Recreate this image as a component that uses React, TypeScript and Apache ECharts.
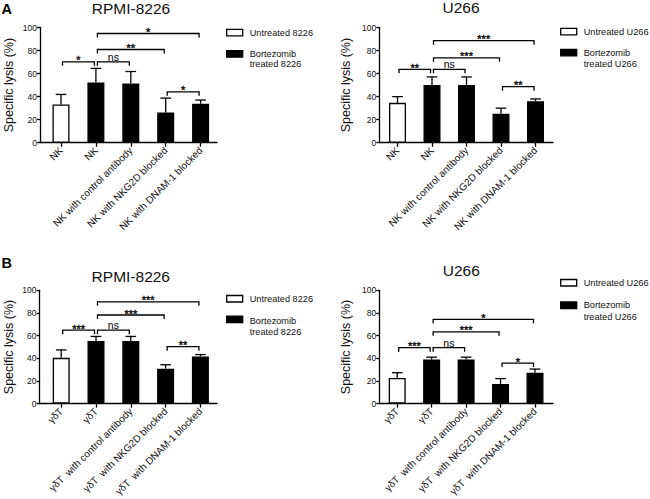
import React, { useEffect, useRef } from 'react';
import * as echarts from 'echarts';

const FONT = '"Liberation Sans", Arial, Helvetica, sans-serif';

// ---------- data ----------
const nkCategories = ['NK', 'NK', 'NK with control antibody', 'NK with NKG2D blocked', 'NK with DNAM-1 blocked'];
const gdCategories = ['γδT', 'γδT', 'γδT  with control antibody', 'γδT  with NKG2D blocked', 'γδT  with DNAM-1 blocked'];
const categoryPositions = [1, 2, 3, 4, 5];
const yTickMin = 0;
const yTickMax = 100;
const yTickStep = 20;

const bracketPairs = [[1, 2], [2, 3], [2, 4], [2, 5], [4, 5]];

// Panel A, RPMI-8226 (NK)
const aRpmiMeans = [33.2, 52.3, 51.4, 26.3, 33.8];
const aRpmiUpper = [41.9, 64.5, 61.8, 38.7, 37.0];
const aRpmiBracketY = [70.2, 70.2, 80.9, 94.8, 44.2];
const aRpmiBracketLabels = ['*', 'ns', '**', '*', '*'];

// Panel A, U266 (NK)
const aU266Means = [34.6, 50.0, 50.0, 25.1, 36.0];
const aU266Upper = [40.0, 57.1, 57.1, 30.0, 38.0];
const aU266BracketY = [63.7, 63.7, 73.7, 88.6, 48.6];
const aU266BracketLabels = ['**', 'ns', '***', '***', '**'];

// Panel B, RPMI-8226 (γδT)
const bRpmiMeans = [40.4, 55.2, 55.2, 30.8, 41.6];
const bRpmiUpper = [47.4, 59.3, 59.3, 34.3, 43.3];
const bRpmiBracketY = [64.8, 64.8, 78.2, 89.8, 50.3];
const bRpmiBracketLabels = ['***', 'ns', '***', '***', '**'];

// Panel B, U266 (γδT)
const bU266Means = [22.7, 39.0, 39.0, 17.4, 27.3];
const bU266Upper = [27.3, 41.0, 41.0, 22.1, 30.5];
const bU266BracketY = [49.4, 49.4, 63.4, 74.4, 35.8];
const bU266BracketLabels = ['***', 'ns', '***', '*', '*'];

const rpmiLegend = ['Untreated 8226', 'Bortezomib treated 8226'];
const rpmiLegendLines = ['Untreated 8226', 'Bortezomib', 'treated 8226'];
const u266Legend = ['Untreated U266', 'Bortezomib treated U266'];
const u266LegendLines = ['Untreated U266', 'Bortezomib', 'treated U266'];

const yAxisTitle = 'Specific lysis (%)';

// ---------- layout ----------
const panels = [
  {
    letter: 'A', letterY: 8.5, title: 'RPMI-8226', cats: nkCategories,
    means: aRpmiMeans, upper: aRpmiUpper, bY: aRpmiBracketY, bL: aRpmiBracketLabels,
    legend: rpmiLegend, legendLines: rpmiLegendLines,
    L: { axisX: 40, c1: 61, spacing: 34.9, axisEnd: 217, top: 27.5, h: 115.2, titleX: 131, titleY: 8, nameGap: 24.5,
      legX: 226.7, whiteTop: 29.3, blackTop: 50.7, textY: [33, 54.3, 64.3] },
  },
  {
    letter: '', letterY: 0, title: 'U266', cats: nkCategories,
    means: aU266Means, upper: aU266Upper, bY: aU266BracketY, bL: aU266BracketLabels,
    legend: u266Legend, legendLines: u266LegendLines,
    L: { axisX: 379.3, c1: 397.5, spacing: 34.5, axisEnd: 553, top: 27.5, h: 115.2, titleX: 461, titleY: 7.5, nameGap: 27,
      legX: 560.7, whiteTop: 28.3, blackTop: 49.3, textY: [31.7, 53.3, 64] },
  },
  {
    letter: 'B', letterY: 263.3, title: 'RPMI-8226', cats: gdCategories,
    means: bRpmiMeans, upper: bRpmiUpper, bY: bRpmiBracketY, bL: bRpmiBracketLabels,
    legend: rpmiLegend, legendLines: rpmiLegendLines,
    L: { axisX: 39.5, c1: 61.2, spacing: 34.8, axisEnd: 217, top: 290.3, h: 115.2, titleX: 130.8, titleY: 276, nameGap: 24,
      legX: 226.7, whiteTop: 295.5, blackTop: 316.2, textY: [299.3, 321, 331.7] },
  },
  {
    letter: '', letterY: 0, title: 'U266', cats: gdCategories,
    means: bU266Means, upper: bU266Upper, bY: bU266BracketY, bL: bU266BracketLabels,
    legend: u266Legend, legendLines: u266LegendLines,
    L: { axisX: 379.3, c1: 397.2, spacing: 34.45, axisEnd: 553, top: 290.3, h: 115.2, titleX: 461.3, titleY: 270.5, nameGap: 27,
      legX: 560.7, whiteTop: 279.5, blackTop: 302, textY: [283.3, 305, 316.7] },
  },
];

const AXIS_W = 1.3;
const INK = '#000';
const TEXT = '#111';

function buildOption() {
  const grid: any[] = [];
  const xAxis: any[] = [];
  const yAxis: any[] = [];
  const series: any[] = [];
  const graphic: any[] = [];

  panels.forEach((p, i) => {
    const L = p.L;
    grid.push({ left: L.axisX, top: L.top, width: L.axisEnd - L.axisX, height: L.h, containLabel: false });
    const cats = p.cats;
    xAxis.push({
      type: 'value', gridIndex: i,
      min: 1 - (L.c1 - L.axisX) / L.spacing,
      max: 1 + (L.axisEnd - L.c1) / L.spacing,
      splitLine: { show: false },
      axisLine: { show: true, onZero: false, lineStyle: { color: INK, width: AXIS_W } },
      axisTick: { show: true, customValues: categoryPositions, length: 4, lineStyle: { color: INK, width: AXIS_W } },
      axisLabel: {
        customValues: categoryPositions,
        formatter: (v: number) => cats[Math.round(v) - 1] ?? '',
        rotate: 45, fontSize: 10, margin: 6, color: TEXT, fontFamily: FONT,
      },
    });
    yAxis.push({
      type: 'value', gridIndex: i, min: yTickMin, max: yTickMax, interval: yTickStep,
      name: yAxisTitle, nameLocation: 'middle', nameGap: L.nameGap,
      nameTextStyle: { fontSize: 12.5, fontFamily: FONT, color: TEXT },
      splitLine: { show: false },
      axisLine: { show: true, onZero: false, lineStyle: { color: INK, width: AXIS_W } },
      axisTick: { show: true, length: 3, lineStyle: { color: INK, width: AXIS_W } },
      axisLabel: { fontSize: 8.5, margin: 3, color: TEXT, fontFamily: FONT },
    });

    series.push({
      type: 'bar', name: p.legend[0], xAxisIndex: i, yAxisIndex: i,
      barWidth: 17, barGap: '-100%',
      itemStyle: { color: '#fff', borderColor: INK, borderWidth: AXIS_W },
      data: [[categoryPositions[0], p.means[0]]],
    });
    series.push({
      type: 'bar', name: p.legend[1], xAxisIndex: i, yAxisIndex: i,
      barWidth: 17, barGap: '-100%',
      itemStyle: { color: '#000', borderColor: INK, borderWidth: AXIS_W },
      data: p.means.slice(1).map((m, k) => [categoryPositions[k + 1], m]),
    });
    // error bars (upper only)
    series.push({
      type: 'custom', name: 'err' + i, xAxisIndex: i, yAxisIndex: i, z: 3,
      itemStyle: { color: INK },
      encode: { x: 0, y: [1, 2] },
      data: p.means.map((m, k) => [categoryPositions[k], m, p.upper[k]]),
      renderItem: (params: any, api: any) => {
        const x = api.value(0);
        const p0 = api.coord([x, api.value(1)]);
        const p1 = api.coord([x, api.value(2)]);
        const st = { stroke: INK, lineWidth: AXIS_W };
        return {
          type: 'group',
          children: [
            { type: 'line', shape: { x1: p0[0], y1: p0[1], x2: p1[0], y2: p1[1] }, style: st },
            { type: 'line', shape: { x1: p1[0] - 5.3, y1: p1[1], x2: p1[0] + 5.3, y2: p1[1] }, style: st },
          ],
        };
      },
    });
    // significance brackets
    const labels = p.bL;
    series.push({
      type: 'custom', name: 'sig' + i, xAxisIndex: i, yAxisIndex: i, z: 4,
      itemStyle: { color: TEXT },
      encode: { x: [0, 1], y: 2 },
      data: bracketPairs.map((pr, k) => [pr[0], pr[1], p.bY[k]]),
      renderItem: (params: any, api: any) => {
        const a = api.coord([api.value(0), api.value(2)]);
        const b = api.coord([api.value(1), api.value(2)]);
        const x1 = a[0] + 1.5, x2 = b[0] - 1.5, y = a[1];
        const lab = labels[params.dataIndex];
        const isNs = lab === 'ns';
        return {
          type: 'group',
          children: [
            {
              type: 'polyline',
              shape: { points: [[x1, y + 4], [x1, y], [x2, y], [x2, y + 4]] },
              style: { stroke: INK, lineWidth: AXIS_W, fill: 'none' },
            },
            {
              type: 'text',
              x: (x1 + x2) / 2,
              y: isNs ? y - 5.1 : y - 1.4,
              style: {
                text: lab, fill: TEXT, stroke: TEXT, lineWidth: isNs ? 0.1 : 0.4,
                fontFamily: FONT, fontSize: isNs ? 10.5 : 11,
                align: 'center', verticalAlign: 'middle',
              },
            },
          ],
        };
      },
    });

    // titles
    graphic.push({
      type: 'text', x: L.titleX, y: L.titleY,
      style: { text: p.title, fill: TEXT, fontFamily: FONT, fontSize: 15.5, align: 'center', verticalAlign: 'middle' },
    });
    if (p.letter) {
      graphic.push({
        type: 'text', x: 1.5, y: p.letterY,
        style: { text: p.letter, fill: INK, fontFamily: FONT, fontWeight: 'bold', fontSize: 14.5, align: 'left', verticalAlign: 'middle' },
      });
    }
    // legend
    graphic.push({
      type: 'rect', shape: { x: L.legX, y: L.whiteTop, width: 16, height: 6.5 },
      style: { fill: '#fff', stroke: INK, lineWidth: AXIS_W },
    });
    graphic.push({
      type: 'rect', shape: { x: L.legX, y: L.blackTop, width: 16, height: 6.5 },
      style: { fill: '#000', stroke: INK, lineWidth: AXIS_W },
    });
    p.legendLines.forEach((t, k) => {
      graphic.push({
        type: 'text', x: L.legX + 23, y: L.textY[k],
        style: { text: t, fill: TEXT, fontFamily: FONT, fontSize: 9.2, align: 'left', verticalAlign: 'middle' },
      });
    });
  });

  return {
    animation: false,
    backgroundColor: '#fff',
    grid, xAxis, yAxis, series, graphic,
  };
}

export default function App() {
  const ref = useRef<HTMLDivElement>(null);
  useEffect(() => {
    document.body.style.margin = '0';
    if (!ref.current) return;
    const chart = echarts.init(ref.current, undefined, { renderer: 'svg' });
    chart.setOption(buildOption());
    return () => chart.dispose();
  }, []);
  return <div ref={ref} style={{ position: 'absolute', left: 0, top: 0, width: 650, height: 499 }} />;
}
